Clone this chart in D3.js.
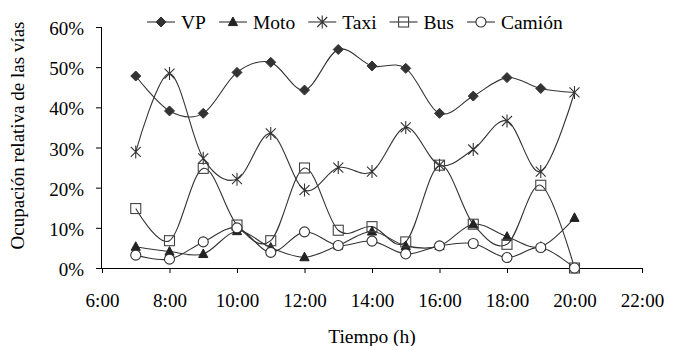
<!DOCTYPE html>
<html>
<head>
<meta charset="utf-8">
<script src="https://cdn.jsdelivr.net/npm/d3@7"></script>
<style>
  html, body { margin: 0; padding: 0; background: #fff; }
  svg { display: block; }
  svg text { font-family: "Liberation Serif", "Times New Roman", serif; }
</style>
</head>
<body>
<svg id="chart" width="681" height="346"></svg>
<script>
// Hours of the day at which occupancy was sampled
const hours = [7, 8, 9, 10, 11, 12, 13, 14, 15, 16, 17, 18, 19, 20];

// Relative occupancy (%) per vehicle type
const vp     = [47.8, 39.1, 38.5, 48.7, 51.2, 44.3, 54.4, 50.3, 49.7, 38.5, 42.8, 47.4, 44.7, 43.7];
const moto   = [5.3, 4.1, 3.5, 9.2, 5.1, 2.7, 5.6, 9.1, 5.5, 5.5, 10.9, 7.8, 5.3, 12.5];
const taxi   = [28.9, 48.4, 27.3, 22.1, 33.5, 19.4, 25.0, 24.0, 35.0, 25.6, 29.5, 36.6, 24.0, 43.7];
const bus    = [14.8, 6.8, 24.8, 10.7, 6.8, 24.9, 9.4, 10.3, 6.5, 25.6, 10.9, 5.9, 20.6, 0];
const camion = [3.2, 2.2, 6.5, 10.0, 3.9, 9.0, 5.6, 6.7, 3.5, 5.5, 6.1, 2.6, 5.1, 0];

// Axis ticks
const xTicks = [6, 8, 10, 12, 14, 16, 18, 20, 22];
const yTicks = [0, 10, 20, 30, 40, 50, 60];

const series = [
  { name: "VP",     values: vp,     marker: "diamond",  noMarker: [20] },
  { name: "Moto",   values: moto,   marker: "triangle", noMarker: [] },
  { name: "Taxi",   values: taxi,   marker: "star",     noMarker: [] },
  { name: "Bus",    values: bus,    marker: "square",   noMarker: [] },
  { name: "Camión", values: camion, marker: "circle",   noMarker: [] }
];

const svg = d3.select("#chart");
const ink = "#333";

const x = d3.scaleLinear().domain([6, 22]).range([102, 642]);
const y = d3.scaleLinear().domain([0, 60]).range([268, 27]);

// Marker glyphs drawn around (0,0)
function drawMarker(g, type) {
  if (type === "diamond") {
    g.append("path").attr("d", "M0,-5L5,0L0,5L-5,0Z").attr("fill", ink).attr("stroke", ink);
  } else if (type === "triangle") {
    g.append("path").attr("d", "M0,-5L4.6,3.6L-4.6,3.6Z").attr("fill", "#222").attr("stroke", "#222");
  } else if (type === "star") {
    g.append("path").attr("d", "M-5,-5L5,5M-5,5L5,-5M0,-6.5L0,6.5")
      .attr("fill", "none").attr("stroke", ink).attr("stroke-width", 1.1);
  } else if (type === "square") {
    g.append("rect").attr("x", -5).attr("y", -5).attr("width", 10).attr("height", 10)
      .attr("fill", "none").attr("stroke", "#444").attr("stroke-width", 1.1);
  } else if (type === "circle") {
    g.append("circle").attr("r", 5).attr("fill", "#fff").attr("stroke", ink).attr("stroke-width", 1.1);
  }
}

// Axes
const yAxis = d3.axisLeft(y).tickValues(yTicks).tickSize(6).tickFormat(d => d + "%");
const gy = svg.append("g").attr("transform", `translate(${x(6)},0)`).call(yAxis)
  .attr("font-family", null).attr("font-size", null);
gy.select(".domain").attr("stroke", "#000").attr("d", `M-0.5,${y(60)}V${y(0)}`);
gy.selectAll(".tick line").attr("stroke", "#000");
gy.selectAll(".tick text").attr("font-size", 19).attr("fill", "#000").attr("x", -18).attr("dy", "0.4em");

const xAxis = d3.axisBottom(x).tickValues(xTicks).tickSize(5).tickFormat(d => d + ":00");
const gx = svg.append("g").attr("transform", `translate(0,${y(0)})`).call(xAxis)
  .attr("font-family", null).attr("font-size", null);
gx.select(".domain").attr("stroke", "#000").attr("d", `M${x(6)},0.5H${x(22)}`);
gx.selectAll(".tick line").attr("stroke", "#000");
gx.selectAll(".tick text").attr("font-size", 19).attr("fill", "#000").attr("y", 39).attr("dy", 0);

// Axis titles
svg.append("text").attr("x", x(14)).attr("y", 343).attr("text-anchor", "middle")
  .attr("font-size", 19.5).attr("fill", "#000").text("Tiempo (h)");
svg.append("text").attr("transform", `translate(24,${(y(0) + y(60)) / 2 - 12}) rotate(-90)`)
  .attr("text-anchor", "middle").attr("font-size", 19).attr("fill", "#000")
  .text("Ocupación relativa de las vías");

// Smoothed series lines
const line = d3.line()
  .x((d, i) => x(hours[i]))
  .y(d => y(d))
  .curve(d3.curveCardinal.tension(0));

const plot = svg.append("g");
series.forEach(s => {
  plot.append("path").attr("d", line(s.values))
    .attr("fill", "none").attr("stroke", ink).attr("stroke-width", 1.1);
});

// Markers, drawn series by series
series.forEach(s => {
  s.values.forEach((v, i) => {
    if (s.noMarker.includes(hours[i])) return;
    const g = plot.append("g").attr("transform", `translate(${x(hours[i])},${y(v)})`);
    drawMarker(g, s.marker);
  });
});

// Legend
const legend = svg.append("g");
let lx = 147;
const ly = 22;
series.forEach(s => {
  const item = legend.append("g").attr("transform", `translate(${lx},${ly})`);
  item.append("line").attr("x1", 0).attr("x2", 28).attr("y1", 0).attr("y2", 0)
    .attr("stroke", ink).attr("stroke-width", 1.1);
  const m = item.append("g").attr("transform", "translate(14,0)");
  drawMarker(m, s.marker);
  const t = item.append("text").attr("x", 34).attr("y", 6.5).attr("font-size", 19.5)
    .attr("fill", "#000").text(s.name);
  lx += 34 + t.node().getComputedTextLength() + 13;
});
</script>
</body>
</html>
